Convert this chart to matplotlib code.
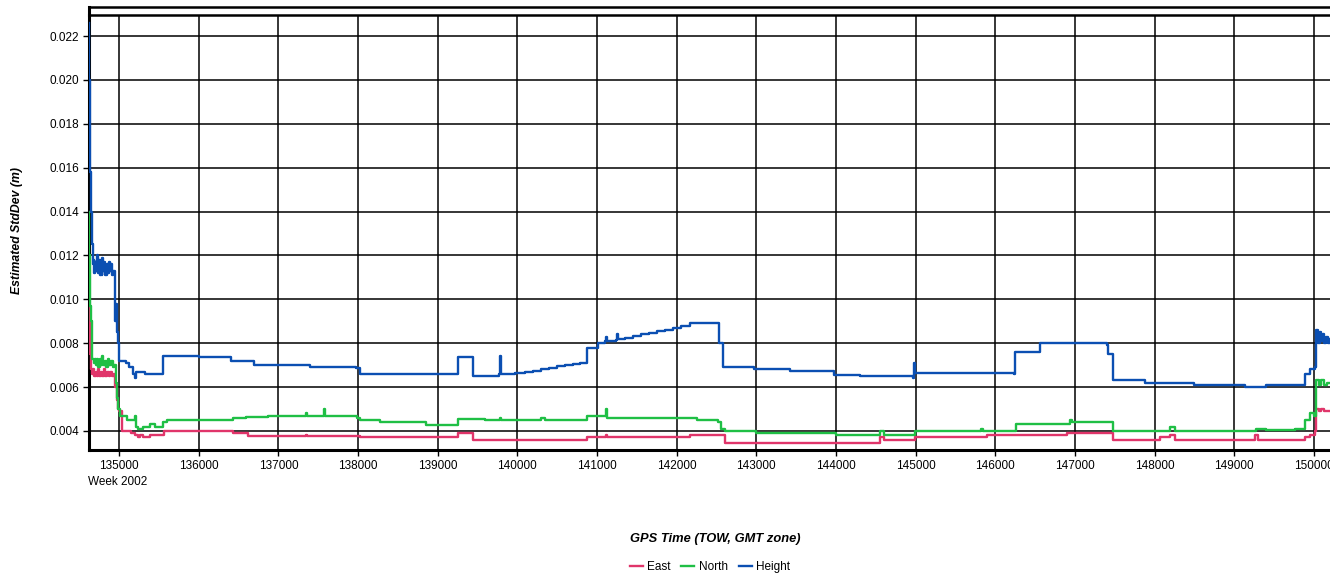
import matplotlib.pyplot as plt
from matplotlib.lines import Line2D

plt.rcParams['font.family'] = ['Liberation Sans', 'DejaVu Sans']

# GPS time of week (s) and estimated std dev (m)
height_t = [134623, 134626, 134630, 134640, 134648, 134660, 134668, 134680, 134690, 134700,
            134712, 134722, 134732, 134745, 134755, 134768, 134780, 134790, 134800, 134815,
            134830, 134845, 134858, 134870, 134885, 134900, 134915, 134930, 134945, 134955,
            134965, 134975, 134990, 135000, 135050, 135090, 135130, 135170, 135200, 135215,
            135260, 135330, 135400, 135545, 135555, 135700, 136000, 136400, 136700, 137000,
            137400, 137980, 138030, 138500, 139000, 139240, 139255, 139430, 139440, 139770,
            139780, 139790, 139970, 140100, 140200, 140300, 140400, 140500, 140600, 140700,
            140786, 140874, 141012, 141100, 141113, 141125, 141240, 141251, 141262, 141350,
            141450, 141550, 141650, 141750, 141850, 141950, 142050, 142167, 142519, 142530,
            142569, 142580, 142970, 143422, 143975, 144301, 144966, 144980, 144995, 146240,
            146250, 146550, 146560, 147400, 147414, 147470, 147477, 147878, 148500, 149130,
            149140, 149385, 149400, 149762, 149888, 149950, 150013, 150025, 150050, 150070,
            150090, 150110, 150130, 150150, 150175, 150200]
height_v = [0.0226, 0.0200, 0.0160, 0.0158, 0.0140, 0.0125, 0.0116, 0.0118, 0.0112, 0.0117,
            0.0113, 0.0120, 0.0112, 0.0118, 0.0111, 0.0116, 0.0111, 0.0119, 0.0113, 0.0117,
            0.0111, 0.0116, 0.0112, 0.0117, 0.0113, 0.0116, 0.0111, 0.0113, 0.0104, 0.0090,
            0.0098, 0.0085, 0.0080, 0.0072, 0.0072, 0.0071, 0.0069, 0.0066, 0.0064, 0.0067,
            0.0067, 0.0066, 0.0066, 0.0066, 0.0074, 0.0074, 0.00735, 0.0072, 0.0070, 0.0070,
            0.0069, 0.00685, 0.0066, 0.0066, 0.0066, 0.0066, 0.00735, 0.00735, 0.0065, 0.0066,
            0.0074, 0.0066, 0.00665, 0.0067, 0.00675, 0.0068, 0.00688, 0.00694, 0.0070, 0.00705,
            0.0071, 0.0078, 0.0080, 0.0081, 0.0083, 0.0081, 0.00815, 0.0084, 0.0082, 0.00825,
            0.00833, 0.0084, 0.00848, 0.00855, 0.00862, 0.0087, 0.00878, 0.0089, 0.0089, 0.0080,
            0.0080, 0.0069, 0.0068, 0.00675, 0.00655, 0.0065, 0.0064, 0.0071, 0.00665, 0.0066,
            0.0076, 0.0076, 0.0080, 0.0079, 0.0075, 0.0075, 0.0063, 0.0062, 0.0061, 0.0061,
            0.0060, 0.0060, 0.0061, 0.0061, 0.0066, 0.0068, 0.0069, 0.0086, 0.0080, 0.0085,
            0.0081, 0.0084, 0.0080, 0.0083, 0.0080, 0.0082]

north_t = [134623, 134628, 134633, 134645, 134655, 134665, 134680, 134695, 134710, 134725,
           134740, 134760, 134775, 134790, 134805, 134820, 134840, 134860, 134880, 134900,
           134920, 134940, 134960, 134975, 134990, 135013, 135100, 135190, 135200, 135210,
           135238, 135300, 135389, 135450, 135550, 135600, 136418, 136430, 136600, 136870,
           137340, 137347, 137360, 137570, 137573, 137590, 137987, 138025, 138276, 138841,
           138850, 139240, 139255, 139600, 139780, 139800, 140200, 140300, 140350, 140786,
           140874, 141000, 141113, 141130, 142167, 142250, 142519, 142560, 142607, 143000,
           143900, 144000, 144500, 144552, 144600, 144966, 144991, 145807, 145820, 145850,
           146247, 146260, 146900, 146937, 146960, 147414, 147477, 148067, 148192, 148250,
           149259, 149270, 149385, 149400, 149762, 149888, 149950, 150000, 150030, 150060,
           150090, 150120, 150160, 150200]
north_v = [0.0140, 0.0120, 0.0097, 0.0090, 0.0080, 0.0073, 0.0071, 0.0073, 0.0070, 0.0073,
           0.0069, 0.0073, 0.0070, 0.0074, 0.0070, 0.0072, 0.0069, 0.0073, 0.0070, 0.0072,
           0.0069, 0.0070, 0.0062, 0.0055, 0.0050, 0.0047, 0.0045, 0.0045, 0.0047, 0.0042,
           0.0041, 0.0042, 0.0043, 0.0042, 0.0044, 0.0045, 0.0045, 0.0046, 0.00465, 0.0047,
           0.0047, 0.0048, 0.0047, 0.0047, 0.0050, 0.0047, 0.0046, 0.0045, 0.0044, 0.0044,
           0.00428, 0.00428, 0.00455, 0.0045, 0.0046, 0.0045, 0.0045, 0.0046, 0.0045, 0.0045,
           0.0047, 0.0047, 0.0050, 0.0046, 0.0046, 0.0045, 0.0044, 0.0041, 0.0040, 0.0039,
           0.0039, 0.0038, 0.0038, 0.0040, 0.0038, 0.0038, 0.0040, 0.0040, 0.0041, 0.0040,
           0.0040, 0.0043, 0.0043, 0.0045, 0.0044, 0.0044, 0.0040, 0.0040, 0.0042, 0.0040,
           0.0040, 0.0041, 0.0041, 0.00405, 0.0041, 0.0045, 0.0048, 0.0047, 0.0063, 0.0061,
           0.0063, 0.0061, 0.0062, 0.0062]

east_t = [134623, 134627, 134632, 134645, 134660, 134675, 134690, 134705, 134720, 134735,
          134750, 134770, 134790, 134810, 134830, 134850, 134870, 134890, 134910, 134935,
          134955, 134970, 134985, 135000, 135038, 135150, 135201, 135238, 135260, 135300,
          135389, 135552, 135560, 136418, 136430, 136619, 137340, 137347, 137360, 137987,
          138025, 139250, 139260, 139430, 139440, 139780, 140786, 140874, 141113, 141130,
          142167, 142519, 142607, 143975, 144400, 144552, 144600, 144966, 144991, 145807,
          145900, 146247, 146900, 147414, 147477, 148067, 148192, 148250, 149259, 149300,
          149762, 149888, 149950, 150013, 150030, 150060, 150090, 150120, 150160, 150200]
east_v = [0.0108, 0.0090, 0.0075, 0.0068, 0.0066, 0.0068, 0.0065, 0.0067, 0.0065, 0.0068,
          0.0065, 0.0067, 0.0065, 0.0068, 0.0065, 0.0067, 0.0065, 0.0067, 0.0065, 0.0066,
          0.0060, 0.0054, 0.0050, 0.0049, 0.0040, 0.0039, 0.0038, 0.0037, 0.0038, 0.0037,
          0.0038, 0.0038, 0.0040, 0.0040, 0.0039, 0.00375, 0.00375, 0.0038, 0.00375, 0.00375,
          0.0037, 0.0037, 0.0039, 0.0039, 0.0036, 0.0036, 0.0036, 0.0037, 0.0038, 0.0037,
          0.0038, 0.0038, 0.00345, 0.00345, 0.00345, 0.0037, 0.0036, 0.0036, 0.0037, 0.0037,
          0.0038, 0.0038, 0.0039, 0.0039, 0.0036, 0.0037, 0.0038, 0.0036, 0.0038, 0.0036,
          0.0036, 0.0037, 0.0038, 0.0040, 0.0050, 0.0049, 0.0050, 0.0049, 0.0049, 0.0049]

x_ticks = list(range(135000, 150001, 1000))
y_ticks = [0.004, 0.006, 0.008, 0.010, 0.012, 0.014, 0.016, 0.018, 0.020, 0.022]

fig = plt.figure(figsize=(13.3, 5.75), dpi=100)
ax = fig.add_axes([89 / 1330, 1 - 450 / 575, 1 - 89 / 1330, 435 / 575])

ax.plot(east_t, east_v, color='#e0356a', lw=1.7, label='East', drawstyle='steps-post', zorder=3)
ax.plot(north_t, north_v, color='#1fbf45', lw=1.7, label='North', drawstyle='steps-post', zorder=3)
ax.plot(height_t, height_v, color='#0b4fb2', lw=1.7, label='Height', drawstyle='steps-post', zorder=3)

ax.set_xlim(134623, 150201)
ax.set_ylim(0.00313, 0.02296)
ax.set_xticks(x_ticks)
ax.set_xticklabels([str(t) for t in x_ticks])
ax.set_yticks(y_ticks)
ax.set_yticklabels(['%.3f' % v for v in y_ticks])
ax.tick_params(labelsize=8.5, length=4, width=1, colors='black', pad=3)
ax.grid(True, color='black', lw=1.1, zorder=1)

for s in ['left', 'bottom']:
    ax.spines[s].set_linewidth(2.2)
ax.spines['top'].set_linewidth(1.8)
ax.spines['right'].set_visible(False)

# outer frame line above the plot
fig.add_artist(Line2D([89 / 1330, 1], [1 - 7 / 575, 1 - 7 / 575], color='black', lw=1.8))
fig.add_artist(Line2D([89 / 1330, 89 / 1330], [1 - 15 / 575, 1 - 7 / 575], color='black', lw=2.2))

fig.text(88 / 1330, 1 - 482 / 575, 'Week 2002', fontsize=8.5, ha='left', va='center')
fig.text(17 / 1330, 1 - 231 / 575, 'Estimated StdDev (m)', fontsize=8.8, fontweight='bold',
         style='italic', rotation=90, ha='center', va='center')
fig.text(715 / 1330, 1 - 539 / 575, 'GPS Time (TOW, GMT zone)', fontsize=9.3, fontweight='bold',
         style='italic', ha='center', va='center')

fig.legend(loc='center', bbox_to_anchor=(710 / 1330, 1 - 567 / 575), ncol=3, frameon=False,
           fontsize=8.5, handlelength=1.1, handletextpad=0.4, columnspacing=0.9)

fig.savefig('out.png', dpi=100)
